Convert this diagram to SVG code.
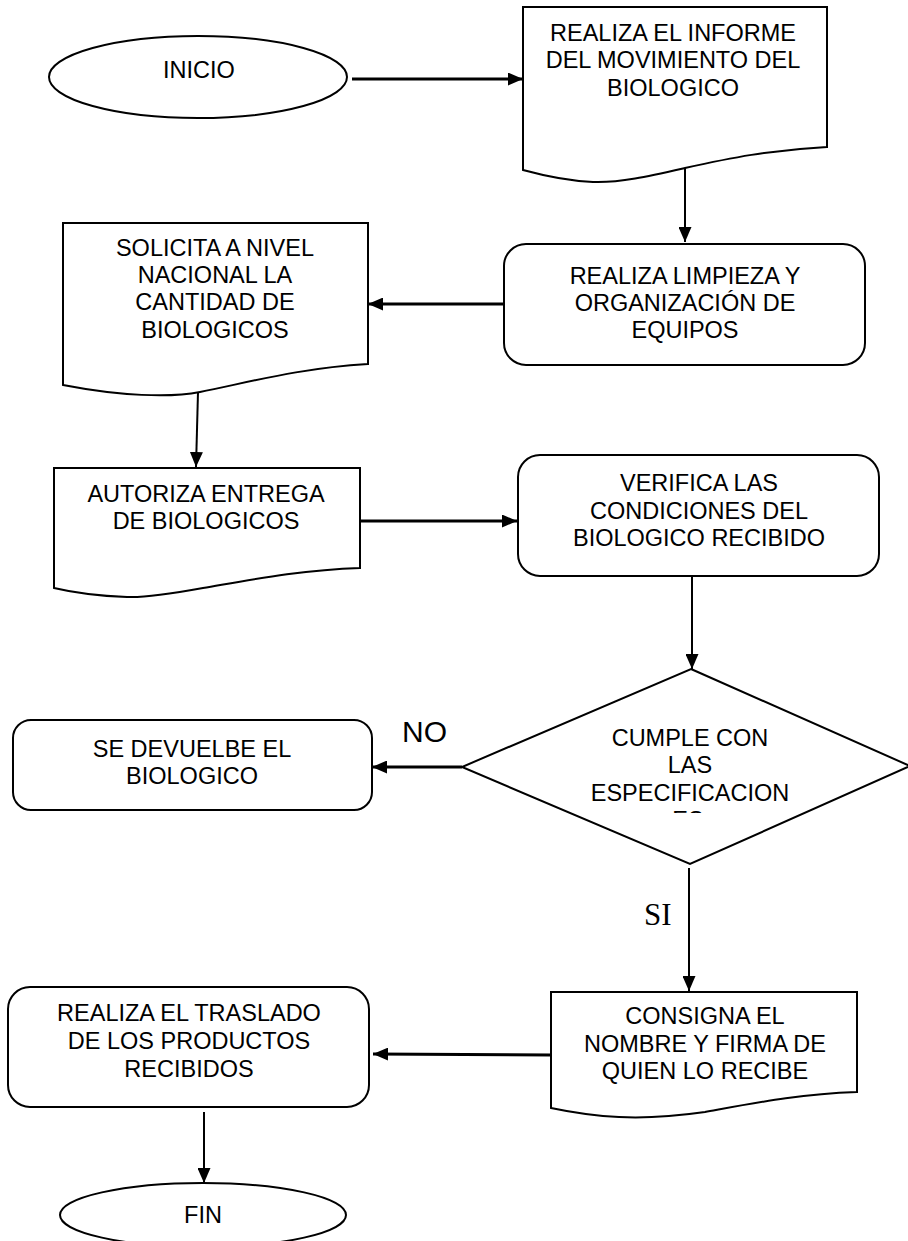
<svg xmlns="http://www.w3.org/2000/svg" width="908" height="1241" viewBox="0 0 908 1241">
<defs>
<style>
.shape{fill:#fff;stroke:#000;stroke-width:2}
.t{font-family:"Liberation Sans",Arial,sans-serif;font-size:23.5px;fill:#000;text-anchor:middle}
.c{stroke:#000;stroke-width:2;fill:none}
.ct{stroke:#000;stroke-width:2.8;fill:none}
</style>
<marker id="ah" viewBox="0 0 15 13" refX="15" refY="6.5" markerWidth="15" markerHeight="13" markerUnits="userSpaceOnUse" orient="auto"><path d="M0,0 L15,6.5 L0,13 Z" fill="#000"/></marker>
<clipPath id="dclip"><rect x="462" y="669" width="446" height="144"/></clipPath>
</defs>
<rect width="908" height="1241" fill="#fff"/>

<g id="connectors">
<line class="ct" x1="352" y1="79" x2="523" y2="79" marker-end="url(#ah)"/>
<line class="c" x1="685" y1="168" x2="685" y2="242" marker-end="url(#ah)"/>
<line class="ct" x1="504" y1="304" x2="368" y2="304" marker-end="url(#ah)"/>
<line class="c" x1="198" y1="392" x2="196" y2="467" marker-end="url(#ah)"/>
<line class="ct" x1="360" y1="521" x2="517" y2="521" marker-end="url(#ah)"/>
<line class="c" x1="692" y1="577" x2="692" y2="669" marker-end="url(#ah)"/>
<line class="ct" x1="462" y1="767" x2="372" y2="767" marker-end="url(#ah)"/>
<line class="c" x1="689" y1="868" x2="689" y2="991" marker-end="url(#ah)"/>
<line class="ct" x1="551" y1="1055" x2="373" y2="1054" marker-end="url(#ah)"/>
<line class="c" x1="204" y1="1112" x2="204" y2="1183" marker-end="url(#ah)"/>
<text x="402" y="742" font-family="Liberation Sans, Arial, sans-serif" font-size="30" fill="#000">NO</text>
<text x="644" y="925" font-family="Liberation Serif, Times New Roman, serif" font-size="31" fill="#000">SI</text>
</g>

<g id="inicio">
<ellipse class="shape" cx="198" cy="77" rx="149" ry="41"/>
<text class="t" x="199" y="78">INICIO</text>
</g>

<g id="informe">
<path class="shape" d="M523,7 H827 V147 C770,150 730,158 685,168 C650,176 620,183 593,182 C570,181 545,176 523,170 Z"/>
<text class="t" x="673" y="41">REALIZA EL INFORME</text>
<text class="t" x="673" y="68">DEL MOVIMIENTO DEL</text>
<text class="t" x="673" y="96">BIOLOGICO</text>
</g>

<g id="limpieza">
<rect class="shape" x="504" y="244" width="361" height="121" rx="22"/>
<text class="t" x="685" y="284">REALIZA LIMPIEZA Y</text>
<text class="t" x="685" y="311">ORGANIZACIÓN DE</text>
<text class="t" x="685" y="338">EQUIPOS</text>
</g>

<g id="solicita">
<path class="shape" d="M63,223 H368 V364 C300,368 250,382 200,392 C170,398 120,396 63,385 Z"/>
<text class="t" x="215" y="256">SOLICITA A NIVEL</text>
<text class="t" x="215" y="283">NACIONAL LA</text>
<text class="t" x="215" y="310">CANTIDAD DE</text>
<text class="t" x="215" y="338">BIOLOGICOS</text>
</g>

<g id="autoriza">
<path class="shape" d="M54,468 H360 V568 C300,570 250,580 203,588 C170,594 145,598 127,597 C100,596 75,593 54,588 Z"/>
<text class="t" x="206" y="502">AUTORIZA ENTREGA</text>
<text class="t" x="206" y="529">DE BIOLOGICOS</text>
</g>

<g id="verifica">
<rect class="shape" x="518" y="455" width="361" height="121" rx="22"/>
<text class="t" x="699" y="491">VERIFICA LAS</text>
<text class="t" x="699" y="519">CONDICIONES DEL</text>
<text class="t" x="699" y="546">BIOLOGICO RECIBIDO</text>
</g>

<g id="cumple">
<polygon class="shape" points="691,669 910,766 690,864 462,767"/>
<g clip-path="url(#dclip)">
<text class="t" x="690" y="746">CUMPLE CON</text>
<text class="t" x="690" y="773">LAS</text>
<text class="t" x="690" y="801">ESPECIFICACION</text>
<text class="t" x="688" y="828">ES</text>
</g>
</g>

<g id="devuelve">
<rect class="shape" x="13" y="720" width="359" height="90" rx="18"/>
<text class="t" x="192" y="757">SE DEVUELBE EL</text>
<text class="t" x="192" y="784">BIOLOGICO</text>
</g>

<g id="consigna">
<path class="shape" d="M551,992 H857 V1092 C800,1094 760,1102 705,1112 C670,1117 640,1118 619,1117 C595,1116 570,1112 551,1108 Z"/>
<text class="t" x="705" y="1024">CONSIGNA EL</text>
<text class="t" x="705" y="1052">NOMBRE Y FIRMA DE</text>
<text class="t" x="705" y="1079">QUIEN LO RECIBE</text>
</g>

<g id="traslado">
<rect class="shape" x="8" y="987" width="361" height="120" rx="22"/>
<text class="t" x="189" y="1021">REALIZA EL TRASLADO</text>
<text class="t" x="189" y="1049">DE LOS PRODUCTOS</text>
<text class="t" x="189" y="1077">RECIBIDOS</text>
</g>

<g id="fin">
<ellipse class="shape" cx="203" cy="1215" rx="143" ry="32"/>
<text class="t" x="203" y="1223">FIN</text>
</g>
</svg>
